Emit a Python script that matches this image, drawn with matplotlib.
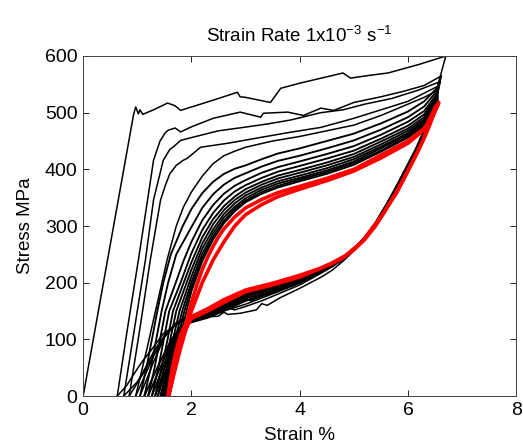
import matplotlib
matplotlib.use("Agg")
import matplotlib.pyplot as plt

plt.rcParams['font.family'] = ['Liberation Sans', 'DejaVu Sans']
plt.rcParams['mathtext.default'] = 'regular'

# Cycle 1 (virgin loading)
c1_load_e = [0.0, 0.93, 0.97, 1.02, 1.05, 1.10, 1.30, 1.56, 1.70, 1.80, 2.00, 2.40, 2.85, 2.90, 3.00, 3.46,
             3.65, 4.00, 4.40, 4.80, 4.94, 5.30, 5.63, 6.20, 6.70]
c1_load_s = [0, 496, 510, 498, 505, 497, 505, 517, 512, 504, 510, 522, 536, 528, 527, 518,
             543, 552, 561, 570, 561, 566, 570, 585, 600]
c1_unload_e = [6.70, 6.62, 6.55, 6.48, 6.40, 6.30, 6.15, 6.00, 5.80, 5.60, 5.40, 5.20, 5.00, 4.80, 4.60, 4.40,
               4.00, 3.65, 3.40, 3.30, 3.20, 2.90, 2.67, 2.60, 2.50, 2.20, 2.00, 1.80, 1.60, 1.48, 1.35, 1.25,
               1.10, 1.00, 0.90, 0.80, 0.63]
c1_unload_s = [600, 572, 548, 520, 495, 470, 438, 410, 373, 338, 305, 278, 256, 238, 222, 210,
               190, 174, 160, 163, 152, 146, 144, 148, 141, 139, 137, 131, 118, 110, 93, 80,
               62, 48, 33, 18, 0]

# Cycles 2-5
c2_load_e = [0.63, 0.82, 1.02, 1.19, 1.30, 1.42, 1.52, 1.57, 1.70, 1.80, 2.00, 2.40, 2.90, 3.28, 3.33, 3.78,
             4.07, 4.39, 4.63, 5.00, 5.50, 5.93, 6.30, 6.62]
c2_load_s = [0, 120, 240, 346, 416, 450, 465, 469, 473, 466, 475, 490, 501, 492, 499, 501,
             495, 508, 504, 518, 528, 538, 548, 565]
c2_unload_e = [6.62, 6.55, 6.48, 6.40, 6.30, 6.15, 6.00, 5.80, 5.60, 5.40, 5.20, 5.00, 4.80, 4.60, 4.40, 4.00,
               3.65, 3.30, 3.00, 2.80, 2.70, 2.50, 2.20, 2.00, 1.80, 1.60, 1.45, 1.30, 1.15, 1.00, 0.75]
c2_unload_s = [565, 540, 515, 492, 468, 436, 408, 371, 337, 305, 279, 258, 241, 228, 217, 196,
               182, 168, 158, 152, 155, 147, 142, 140, 132, 118, 100, 78, 50, 25, 0]

c3_load_e = [0.75, 0.95, 1.15, 1.30, 1.48, 1.60, 1.67, 1.80, 2.04, 2.50, 2.96, 3.40, 3.83, 4.39, 4.80, 5.20,
             5.70, 6.20, 6.60]
c3_load_s = [0, 120, 240, 346, 416, 435, 440, 451, 457, 468, 474, 480, 487, 500, 505, 515,
             525, 540, 555]
c3_unload_e = [6.60, 6.55, 6.48, 6.40, 6.30, 6.15, 6.00, 5.80, 5.60, 5.40, 5.20, 5.00, 4.80, 4.60, 4.40, 4.00,
               3.65, 3.30, 3.00, 2.70, 2.40, 2.10, 1.90, 1.70, 1.50, 1.30, 1.10, 0.85]
c3_unload_s = [555, 535, 512, 490, 466, 434, 407, 370, 336, 304, 279, 258, 242, 229, 218, 199,
               186, 173, 162, 153, 147, 141, 136, 125, 105, 72, 38, 0]

c4_load_e = [0.85, 1.05, 1.24, 1.43, 1.52, 1.60, 1.72, 1.85, 1.93, 2.17, 2.67, 3.20, 3.80, 4.39, 5.00, 5.50,
             6.00, 6.58]
c4_load_s = [0, 120, 240, 346, 372, 392, 407, 416, 420, 439, 446, 455, 465, 474, 490, 505,
             520, 548]
c4_unload_e = [6.58, 6.48, 6.40, 6.30, 6.15, 6.00, 5.80, 5.60, 5.40, 5.20, 5.00, 4.80, 4.60, 4.40, 4.00, 3.65,
               3.30, 3.10, 3.00, 2.70, 2.40, 2.10, 1.90, 1.70, 1.50, 1.30, 0.97]
c4_unload_s = [548, 510, 489, 465, 433, 406, 369, 335, 304, 279, 258, 242, 230, 219, 200, 188,
               176, 168, 171, 158, 150, 144, 138, 126, 104, 70, 0]

c5_load_e = [0.97, 1.17, 1.36, 1.55, 1.72, 1.85, 2.00, 2.20, 2.40, 2.60, 2.80, 3.00, 3.50, 4.00, 4.50, 5.00,
             5.50, 6.00, 6.30, 6.56]
c5_load_s = [0, 80, 160, 240, 300, 333, 360, 388, 410, 424, 432, 439, 450, 458, 468, 478,
             495, 515, 527, 540]
c5_unload_e = [6.56, 6.48, 6.40, 6.30, 6.15, 6.00, 5.80, 5.60, 5.40, 5.20, 5.00, 4.80, 4.60, 4.40, 4.00, 3.65,
               3.30, 3.00, 2.70, 2.40, 2.10, 1.90, 1.70, 1.50, 1.30, 1.05]
c5_unload_s = [540, 509, 488, 464, 432, 405, 368, 335, 304, 279, 258, 242, 231, 220, 202, 190,
               179, 168, 158, 151, 145, 140, 128, 103, 60, 0]

# Stabilising cycles 6-15 (the dense band): shared strain stations
band_load_e = [2.00, 2.20, 2.40, 2.60, 2.80, 3.00, 3.30, 3.60, 4.00, 4.50, 5.00, 5.50, 6.00, 6.30, 6.55]
band_unload_e = [6.55, 6.48, 6.40, 6.30, 6.15, 6.00, 5.80, 5.60, 5.40, 5.20, 5.00, 4.80, 4.60, 4.40, 4.00,
                 3.50, 3.00, 2.60, 2.30, 2.00]
band_tail_s = [122, 98, 60, 25, 0]

c6_foot_e, c6_foot_s = [1.05, 1.17, 1.27, 1.37, 1.48, 1.62, 1.84], [0, 50, 100, 150, 200, 250, 300]
c6_load_s = [330, 358, 378, 392, 401, 407, 418, 428, 437, 450, 463, 481, 502, 520, 545]
c6_unload_s = [545, 510, 488, 465, 435, 408, 372, 338, 306, 280, 260, 244, 232, 222, 200, 182, 168, 150, 138, 130]
c6_tail_e = [1.80, 1.62, 1.42, 1.25, 1.13]

c7_foot_e, c7_foot_s = [1.13, 1.25, 1.35, 1.45, 1.57, 1.72], [0, 50, 100, 150, 200, 250]
c7_load_s = [298, 332, 356, 373, 385, 393, 405, 415, 424, 437, 451, 470, 492, 511, 540]
c7_unload_s = [540, 508, 486, 463, 433, 406, 370, 336, 305, 279, 260, 244, 232, 223, 202, 185, 172, 154, 141, 132]
c7_tail_e = [1.80, 1.64, 1.47, 1.31, 1.20]

c8_foot_e, c8_foot_s = [1.20, 1.32, 1.42, 1.52, 1.71, 1.86], [0, 50, 100, 150, 200, 240]
c8_load_s = [272, 310, 337, 357, 371, 381, 394, 404, 414, 427, 441, 461, 484, 503, 535]
c8_unload_s = [535, 506, 485, 461, 431, 404, 368, 335, 304, 279, 259, 244, 233, 223, 204, 188, 175, 156, 143, 133]
c8_tail_e = [1.82, 1.66, 1.51, 1.37, 1.27]

c9_foot_e, c9_foot_s = [1.27, 1.39, 1.49, 1.59, 1.80], [0, 50, 100, 150, 200]
c9_load_s = [252, 293, 323, 345, 361, 372, 385, 396, 406, 419, 433, 454, 477, 497, 532]
c9_unload_s = [532, 505, 484, 460, 430, 403, 367, 334, 303, 278, 259, 244, 233, 224, 205, 190, 177, 159, 144, 134]
c9_tail_e = [1.83, 1.68, 1.54, 1.42, 1.33]

c10_foot_e, c10_foot_s = [1.33, 1.45, 1.56, 1.66], [0, 50, 100, 150]
c10_load_s = [236, 280, 312, 335, 352, 365, 378, 389, 399, 412, 427, 449, 472, 492, 529]
c10_unload_s = [529, 503, 483, 459, 429, 402, 366, 333, 303, 278, 259, 244, 233, 224, 206, 191, 179, 160, 146, 135]
c10_tail_e = [1.84, 1.70, 1.57, 1.46, 1.38]

c11_foot_e, c11_foot_s = [1.38, 1.50, 1.61, 1.72], [0, 50, 100, 150]
c11_load_s = [223, 269, 303, 328, 346, 359, 373, 384, 394, 407, 422, 444, 468, 488, 527]
c11_unload_s = [527, 503, 482, 458, 428, 401, 365, 333, 302, 278, 258, 244, 233, 224, 207, 192, 181, 162, 147, 136]
c11_tail_e = [1.85, 1.72, 1.60, 1.50, 1.43]

c12_foot_e, c12_foot_s = [1.43, 1.55, 1.66, 1.78], [0, 50, 100, 150]
c12_load_s = [211, 260, 294, 321, 340, 354, 368, 379, 389, 402, 418, 440, 464, 485, 525]
c12_unload_s = [525, 502, 481, 458, 428, 401, 365, 332, 302, 278, 258, 244, 234, 224, 208, 193, 182, 163, 148, 137]
c12_tail_e = [1.86, 1.74, 1.63, 1.53, 1.47]

c13_foot_e, c13_foot_s = [1.47, 1.59, 1.70, 1.83], [0, 50, 100, 150]
c13_load_s = [201, 251, 287, 315, 334, 349, 364, 375, 385, 398, 414, 437, 461, 482, 523]
c13_unload_s = [523, 501, 481, 457, 427, 400, 364, 332, 302, 277, 258, 244, 234, 225, 209, 194, 183, 164, 149, 137]
c13_tail_e = [1.87, 1.75, 1.65, 1.56, 1.50]

c14_foot_e, c14_foot_s = [1.50, 1.62, 1.74, 1.87], [0, 50, 100, 150]
c14_load_s = [192, 244, 281, 309, 330, 345, 360, 371, 382, 395, 411, 433, 458, 479, 521]
c14_unload_s = [521, 500, 480, 456, 426, 399, 363, 331, 301, 277, 258, 244, 234, 225, 209, 195, 184, 165, 149, 138]
c14_tail_e = [1.88, 1.77, 1.67, 1.59, 1.53]

c15_foot_e, c15_foot_s = [1.53, 1.65, 1.77, 1.91], [0, 50, 100, 150]
c15_load_s = [185, 238, 276, 305, 326, 342, 357, 368, 379, 392, 408, 431, 456, 477, 520]
c15_unload_s = [520, 500, 480, 456, 426, 399, 363, 331, 301, 277, 258, 244, 234, 225, 210, 196, 185, 166, 150, 138]
c15_tail_e = [1.88, 1.78, 1.69, 1.61, 1.56]

# Last (highlighted) cycles
r1_load_e = [1.56, 1.62, 1.70, 1.80, 1.90, 2.00, 2.10, 2.20, 2.30, 2.40, 2.50, 2.60, 2.80, 3.00, 3.30, 3.60,
             4.00, 4.50, 5.00, 5.50, 6.00, 6.30, 6.45, 6.57]
r1_load_s = [0, 25, 55, 90, 128, 165, 196, 223, 245, 264, 281, 295, 316, 332, 347, 359,
             370, 384, 400, 425, 450, 472, 492, 518]
r1_unload_e = [6.57, 6.48, 6.40, 6.30, 6.15, 6.00, 5.80, 5.60, 5.40, 5.20, 5.00, 4.80, 4.60, 4.40, 4.00, 3.50,
               3.00, 2.60, 2.30, 2.00, 1.90, 1.80, 1.72, 1.65, 1.60, 1.58]
r1_unload_s = [518, 498, 478, 455, 425, 398, 362, 330, 300, 276, 258, 244, 234, 226, 213, 199,
               187, 170, 154, 140, 128, 108, 82, 50, 22, 0]

r2_load_e = [1.58, 1.68, 1.80, 1.90, 2.00, 2.20, 2.40, 2.60, 2.80, 3.00, 3.30, 3.60, 4.00, 4.50, 5.00, 5.50,
             6.00, 6.30, 6.52]
r2_load_s = [0, 40, 85, 118, 150, 200, 240, 272, 300, 320, 338, 352, 365, 380, 397, 420,
             446, 470, 512]
r2_unload_e = [6.52, 6.42, 6.28, 6.08, 5.80, 5.50, 5.15, 4.85, 4.60, 4.40, 4.00, 3.50, 3.00, 2.60, 2.30, 2.00,
               1.86, 1.74, 1.65, 1.58]
r2_unload_s = [512, 485, 452, 412, 360, 316, 272, 248, 235, 226, 210, 196, 184, 165, 150, 137,
               112, 72, 34, 0]

early_cycles = [
    (c1_load_e, c1_load_s, c1_unload_e, c1_unload_s),
    (c2_load_e, c2_load_s, c2_unload_e, c2_unload_s),
    (c3_load_e, c3_load_s, c3_unload_e, c3_unload_s),
    (c4_load_e, c4_load_s, c4_unload_e, c4_unload_s),
    (c5_load_e, c5_load_s, c5_unload_e, c5_unload_s),
]
band_cycles = [
    (c6_foot_e, c6_foot_s, c6_load_s, c6_unload_s, c6_tail_e),
    (c7_foot_e, c7_foot_s, c7_load_s, c7_unload_s, c7_tail_e),
    (c8_foot_e, c8_foot_s, c8_load_s, c8_unload_s, c8_tail_e),
    (c9_foot_e, c9_foot_s, c9_load_s, c9_unload_s, c9_tail_e),
    (c10_foot_e, c10_foot_s, c10_load_s, c10_unload_s, c10_tail_e),
    (c11_foot_e, c11_foot_s, c11_load_s, c11_unload_s, c11_tail_e),
    (c12_foot_e, c12_foot_s, c12_load_s, c12_unload_s, c12_tail_e),
    (c13_foot_e, c13_foot_s, c13_load_s, c13_unload_s, c13_tail_e),
    (c14_foot_e, c14_foot_s, c14_load_s, c14_unload_s, c14_tail_e),
    (c15_foot_e, c15_foot_s, c15_load_s, c15_unload_s, c15_tail_e),
]
red_cycles = [
    (r1_load_e, r1_load_s, r1_unload_e, r1_unload_s),
    (r2_load_e, r2_load_s, r2_unload_e, r2_unload_s),
]

fig = plt.figure(figsize=(5.23, 4.48), dpi=100)
ax = fig.add_axes([0.159, 0.116, 0.828, 0.759])

for le, ls, ue, us in early_cycles:
    ax.plot(le + ue, ls + us, color='black', lw=1.1)
for fe, fs, ls, us, te in band_cycles:
    ax.plot(fe + band_load_e + band_unload_e + te, fs + ls + us + band_tail_s, color='black', lw=1.35)
for le, ls, ue, us in red_cycles:
    ax.plot(le + ue, ls + us, color='red', lw=2.6)

ax.set_xlim(0, 8)
ax.set_ylim(0, 600)
ax.set_xticks([0, 2, 4, 6, 8])
ax.set_yticks([0, 100, 200, 300, 400, 500, 600])
ax.tick_params(direction='in', top=True, right=True, labelsize=14, length=4, width=0.6, pad=4)
for sp in ax.spines.values():
    sp.set_linewidth(0.7)
    sp.set_color('#444444')

ax.set_xlabel('Strain %', fontsize=13.5, labelpad=6)
ax.set_ylabel('Stress MPa', fontsize=13.5, labelpad=8)
ax.set_title('Strain Rate 1x10$^{-3}$ s$^{-1}$', fontsize=13.5, pad=10)

fig.savefig('out.png', dpi=100)
